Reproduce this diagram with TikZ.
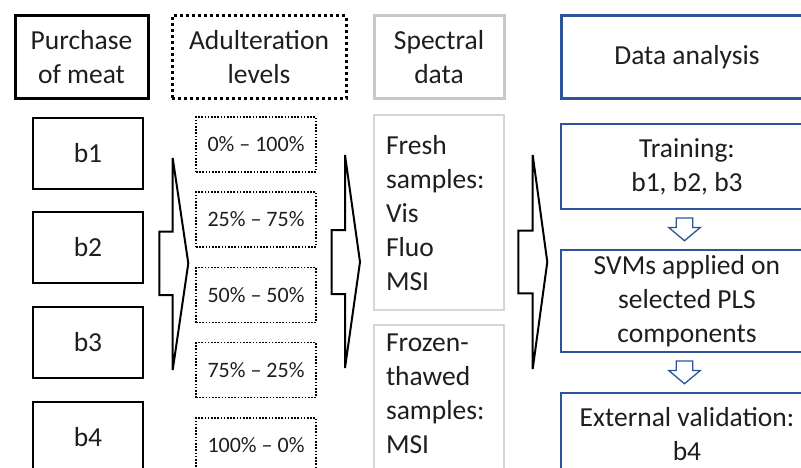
\documentclass[tikz,border=0pt]{standalone}
\usepackage{fontspec}
\setmainfont{Carlito}
\definecolor{dablue}{HTML}{2B5597}
\definecolor{hgray}{HTML}{C8C8C8}
\definecolor{lgray}{HTML}{D6D6D6}
\definecolor{txt}{HTML}{1E1E1E}
\begin{document}
\begin{tikzpicture}[x=1pt,y=-1pt,
  big/.style={font=\fontsize{27.5}{34}\selectfont, text=txt, align=center, inner sep=0pt},
  hdr/.style={big, minimum height=83pt},
  bbox/.style={big, draw=black, line width=2pt, minimum width=110pt, minimum height=71pt},
  pct/.style={font=\fontsize{22}{26}\selectfont, text=txt, inner sep=0pt, draw=black,
    line width=1.6pt, dash pattern=on 1.6pt off 1.6pt, minimum width=120pt, minimum height=55pt},
  specbox/.style={draw=lgray, line width=1.5pt, minimum width=130pt, minimum height=195pt},
  sptext/.style={big, align=left, text width=106pt},
  databox/.style={big, draw=dablue, line width=1.5pt, minimum width=252pt},
  bigarrow/.style={draw=black, fill=white, line width=2pt, line join=miter},
  hdown/.pic={\draw[draw=dablue, line width=1.3pt, line join=miter, fill=white]
    (-10.8,8.3) -- (5.8,8.3) -- (5.8,17.7) -- (13.3,17.7) -- (-2.5,31) -- (-18.3,17.7) -- (-10.8,17.7) -- cycle;}
]
\useasboundingbox (0,0) rectangle (801,468);
\clip (0,0) rectangle (801,468);

% headers
\node[hdr, draw=black, line width=3pt, minimum width=133pt] (purchase) at (81.5,57.5) {Purchase\\of meat};
\node[hdr, draw=black, line width=3pt, dash pattern=on 3pt off 3pt, minimum width=174pt] (adult) at (259,57.5) {Adulteration\\levels};
\node[hdr, draw=hgray, line width=3pt, minimum width=130pt] (spectral) at (439,57.5) {Spectral\\data};
\node[hdr, draw=dablue, line width=3pt, minimum width=252pt] (data) at (687,57.5) {Data analysis};

% batches
\node[bbox] (b1) at (88,153.5) {b1};
\node[bbox] (b2) at (88,247.5) {b2};
\node[bbox] (b3) at (88,342.5) {b3};
\node[bbox] (b4) at (88,437.5) {b4};

% adulteration levels
\node[pct] (p1) at (256,144.5) {0\% – 100\%};
\node[pct] (p2) at (256,219.5) {25\% – 75\%};
\node[pct] (p3) at (256,295) {50\% – 50\%};
\node[pct] (p4) at (256,370) {75\% – 25\%};
\node[pct] (p5) at (256,445.5) {100\% – 0\%};

% spectral data
\node[specbox] (fresh) at (439,212.5) {};
\node[sptext] (freshT) at (439,213.5) {Fresh\\samples:\\Vis\\Fluo\\MSI};
\node[specbox] (frozen) at (439,422.5) {};
\node[sptext] (frozenT) at (439,393.5) {Frozen-\\thawed\\samples:\\MSI};

% data analysis
\node[databox, minimum height=85pt] (train) at (687,166.5) {Training:\\b1, b2, b3};
\node[databox, minimum height=102pt] (svm) at (687,301) {SVMs applied on\\selected PLS\\components};
\node[databox, minimum height=82pt] (ext) at (687,434) {External validation:\\b4};

% big brace arrows
\draw[bigarrow] (172.7,158) -- (188.3,263.3) -- (172.7,370) -- (172.7,295) -- (159.3,295) -- (159.3,231.7) -- (172.7,231.7) -- cycle;
\draw[bigarrow] (345,155) -- (360,262) -- (345,368) -- (345,294) -- (331.7,294) -- (331.7,230) -- (345,230) -- cycle;
\draw[bigarrow] (532.7,155) -- (547.3,262) -- (532.7,369) -- (532.7,293.3) -- (518.3,293.3) -- (518.3,230.7) -- (532.7,230.7) -- cycle;

% small down arrows
\pic at (train.south) {hdown};
\pic at (svm.south) {hdown};
\end{tikzpicture}
\end{document}
